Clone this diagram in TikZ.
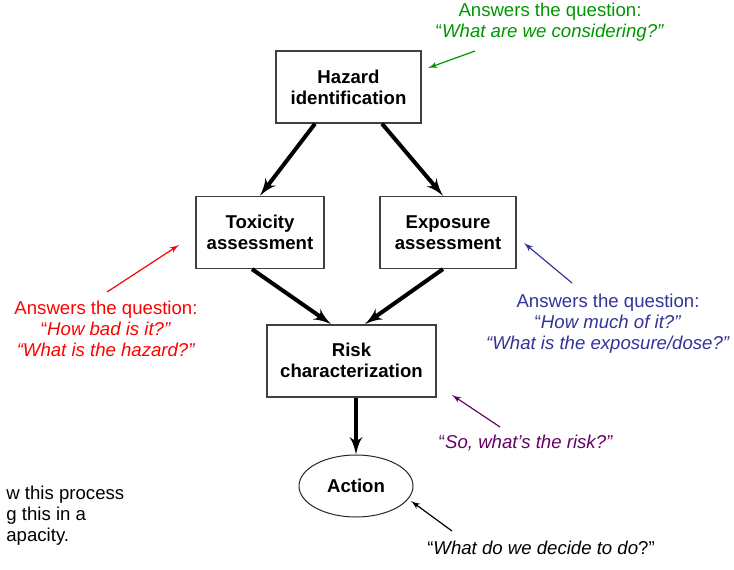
\documentclass[tikz,border=0pt]{standalone}
\usepackage{fontspec}
\setmainfont{Liberation Sans}
\usepackage{xcolor}
\usepackage{tikz}
\usetikzlibrary{shapes.geometric, arrows, positioning, calc}

\newcommand{\slidefont}{\fontsize{9.3}{10.5}\selectfont}
\definecolor{qgreen}{RGB}{0,150,0}
\definecolor{qred}{RGB}{255,0,0}
\definecolor{qblue}{RGB}{51,51,153}
\definecolor{qpurple}{RGB}{102,0,102}

\begin{document}
\begin{tikzpicture}[x=0.5pt, y=-0.5pt, font=\slidefont,
                % Define styles
                block/.style={rectangle, draw=black!75, line width=0.7pt, font=\slidefont\bfseries, align=center, minimum height=36pt, inner sep=0pt},
                oval/.style={ellipse, draw=black!85, line width=0.5pt, font=\slidefont\bfseries, minimum width=57pt, minimum height=31pt, inner sep=0pt},
                line/.style={draw, -latex', line width=2pt},
                pointer/.style={draw, -latex', line width=0.6pt},
                remark/.style={align=center, inner sep=0pt}
            ]

            \useasboundingbox (0,0) rectangle (734,569);

            % --- Nodes ---

            % 1. Hazard
            \node [block, minimum width=72.5pt] (hazard) at (348.5,87) {Hazard\\identification};

            % 2. Toxicity and exposure
            \node [block, minimum width=64pt, below=36pt of hazard, xshift=-44.25pt] (toxicity) {Toxicity\\assessment};
            \node [block, minimum width=68pt, below=36pt of hazard, xshift=49.75pt] (exposure) {Exposure\\assessment};

            % 3. Risk
            \node [block, minimum width=84.5pt, below=27.5pt of toxicity, xshift=45.75pt] (risk) {Risk\\characterization};

            % 4. Action
            \node [oval, below=28.5pt of risk, xshift=2.25pt] (action) {Action};

            % --- Edges ---
            \path [line] ($(hazard.south)+(-33.5,0)$) -- (toxicity.north);
            \path [line] ($(hazard.south)+(33.5,0)$) -- ($(exposure.north)+(-5,0)$);
            \path [line] ($(toxicity.south)+(-8,0)$) -- ($(risk.north)+(-20.5,0)$);
            \path [line] ($(exposure.south)+(-5,0)$) -- ($(risk.north)+(13.5,0)$);
            \path [line] (action.north |- risk.south) -- (action.north);

            % --- Questions ---
            \node [remark, text=qgreen] (considering) at (550,22) {Answers the question:\\“\textit{What are we considering?”}};
            \node [remark, text=qred] (howbad) at (106,329) {Answers the question:\\“\textit{How bad is it?”}\\\textit{“What is the hazard?”}};
            \node [remark, text=qblue] (howmuch) at (608,324) {Answers the question:\\“\textit{How much of it?”}\\\textit{“What is the exposure/dose?”}};
            \node [remark, text=qpurple] (sowhat) at (526,443) {“\textit{So, what’s the risk?”}};
            \node [remark] (decide) at (541,548) {“\textit{What do we decide to do}?”};
            \node [remark, align=left, anchor=west] (cutoff) at (6,516) {w this process\\g this in a\\apacity.};

            % --- Pointers ---
            \coordinate (greentail) at (475,51);
            \coordinate (greentip) at (428,68);
            \coordinate (redtail) at (107,292);
            \coordinate (redtip) at (179,245);
            \coordinate (bluetail) at (572,283);
            \coordinate (bluetip) at (524,243);
            \coordinate (purpletail) at (500,427);
            \coordinate (purpletip) at (452,395);
            \coordinate (blacktail) at (452,531);
            \coordinate (blacktip) at (411,501);

            \path [pointer, qgreen] (greentail) -- (greentip);
            \path [pointer, qred] (redtail) -- (redtip);
            \path [pointer, qblue] (bluetail) -- (bluetip);
            \path [pointer, qpurple] (purpletail) -- (purpletip);
            \path [pointer] (blacktail) -- (blacktip);

        \end{tikzpicture}
\end{document}
